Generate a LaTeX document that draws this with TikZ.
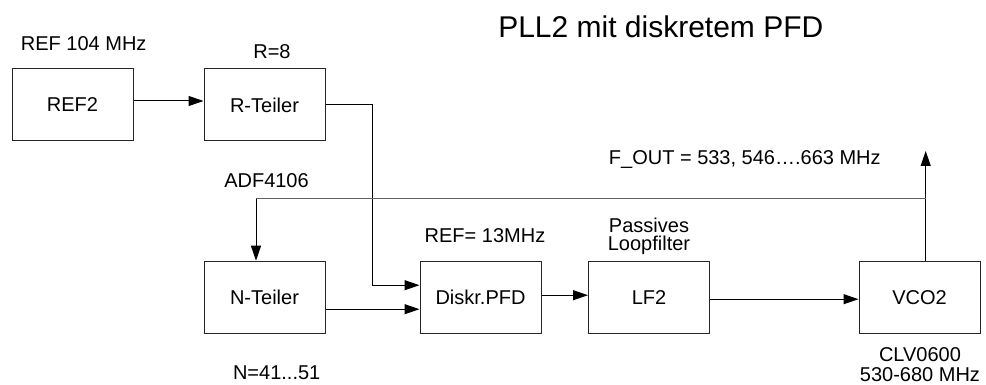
\documentclass[tikz,border=0pt]{standalone}
\usepackage{fontspec}
\setmainfont{Liberation Sans}
\usetikzlibrary{arrows.meta,calc}
\begin{document}
\begin{tikzpicture}[x=1pt,y=-1pt,
  every node/.style={font=\fontsize{20}{22}\selectfont, inner sep=0pt},
  block/.style={draw=black!85, line width=1pt, minimum width=121pt, minimum height=72pt},
  sig/.style={draw=black, line width=1pt, -{Triangle[length=15pt,width=10pt]}},
  wire/.style={draw=black, line width=1pt},
  fbline/.style={draw=black!62, line width=1.7pt},
  lbl/.style={anchor=base}]
  % canvas
  \fill[white] (0,0) rectangle (986,385);
  \useasboundingbox (0,0) rectangle (986,385);

  % title
  \node[lbl, font=\fontsize{30}{36}\selectfont] (title) at (660.8,37.7) {PLL2 mit diskretem PFD};

  % blocks
  \node[block] (ref) at (72.5,105) {REF2};
  \node[block] (rdiv) at (264.5,105) {R-Teiler};
  \node[block] (ndiv) at (264.5,297.2) {N-Teiler};
  \node[block] (pfd) at (480.5,297.2) {Diskr.PFD};
  \node[block] (lf) at (649,297.2) {LF2};
  \node[block] (vco) at (919.5,297.2) {VCO2};

  % annotations
  \node[lbl] (reflbl) at (83.7,50.7) {REF 104 MHz};
  \node[lbl] (rlbl) at (272,58.3) {R=8};
  \node[lbl] (adf) at (266.5,187.5) {ADF4106};
  \node[lbl] (nlbl) at (276.7,379) {N=41...51};
  \node[lbl] (pfdlbl) at (485,242.7) {REF= 13MHz};
  \node[lbl] (lflbl1) at (649,232.3) {Passives};
  \node[lbl] (lflbl2) at (649,251) {Loopfilter};
  \node[lbl] (vcolbl1) at (920,361) {CLV0600};
  \node[lbl] (vcolbl2) at (920,381.5) {530-680 MHz};
  \node[lbl] (foutlbl) at (744.8,164.3) {F\_OUT = 533, 546….663 MHz};

  % connection points
  \coordinate (refout) at ([yshift=4pt]ref.east);
  \coordinate (pfdin1) at ([yshift=12pt]pfd.west);
  \coordinate (pfdin2) at ([yshift=-12pt]pfd.west);
  \coordinate (pfdout) at ([yshift=2pt]pfd.east);
  \coordinate (lfout) at ([yshift=-2pt]lf.east);
  \coordinate (vcoout) at ([xshift=6.2pt]vco.north);
  \coordinate (fout) at (vcoout |- 0,151);
  \coordinate (tap) at (vcoout |- 0,198.5);
  \coordinate (ndivin) at ([xshift=-8.5pt]ndiv.north);
  \coordinate (corner) at (ndivin |- tap);

  % signal path
  \draw[sig] (refout) -- (refout -| rdiv.west);
  \draw[sig] (rdiv.east) -- ++(47.3,0) |- (pfdin1);
  \draw[sig] (pfdin2 -| ndiv.east) -- (pfdin2);
  \draw[sig] (pfdout) -- (pfdout -| lf.west);
  \draw[sig] (lfout) -- (lfout -| vco.west);
  \draw[sig] (vcoout) -- (fout);

  % feedback to the N divider
  \draw[sig] (corner) -- (ndivin);
  \draw[fbline] (tap) -- (corner);
\end{tikzpicture}
\end{document}
